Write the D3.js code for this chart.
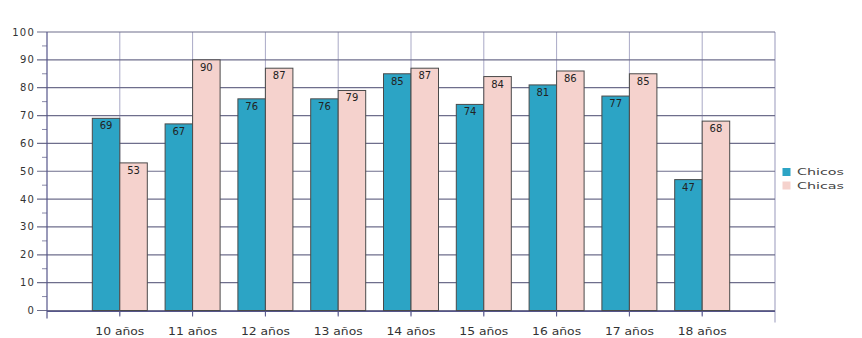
<!DOCTYPE html>
<html>
<head>
<meta charset="utf-8">
<script src="https://cdn.jsdelivr.net/npm/d3@7"></script>
<style>
body { margin: 0; background: #fff; }
text { font-family: "DejaVu Sans", Verdana, sans-serif; }
</style>
</head>
<body>
<svg id="chart" width="862" height="338"></svg>
<script>
const categories = ["10 años","11 años","12 años","13 años","14 años","15 años","16 años","17 años","18 años"];
const chicos = [69, 67, 76, 76, 85, 74, 81, 77, 47];
const chicas = [53, 90, 87, 79, 87, 84, 86, 85, 68];
const seriesNames = ["Chicos", "Chicas"];
const seriesColors = ["#2ca4c5", "#f5d2cd"];
const yTicks = [0,10,20,30,40,50,60,70,80,90,100];

(function () {
const svg = d3.select("#chart");
const pl = 47, pr = 775, pt = 32, pb = 310.5;

const x = d3.scalePoint().domain(categories).range([pl, pr]).padding(1);
const y = d3.scaleLinear().domain([0, 100]).range([pb, pt]);
const barW = 27.5;

// vertical gridlines
svg.append("g").selectAll("line").data(categories).join("line")
  .attr("x1", d => x(d)).attr("x2", d => x(d))
  .attr("y1", pt).attr("y2", pb + 5)
  .attr("stroke", "#a9a9c6").attr("stroke-width", 1);
svg.append("line").attr("x1", pr).attr("x2", pr).attr("y1", pt).attr("y2", pb + 12)
  .attr("stroke", "#a9a9c6").attr("stroke-width", 1.2);

// horizontal gridlines
svg.append("g").selectAll("line").data(yTicks).join("line")
  .attr("x1", pl - 10).attr("x2", pr)
  .attr("y1", d => y(d)).attr("y2", d => y(d))
  .attr("stroke", "#6e6e8c").attr("stroke-width", 1.2);

// minor ticks at 5s
const minor = d3.range(5, 100, 10);
svg.append("g").selectAll("line").data(minor).join("line")
  .attr("x1", pl - 5).attr("x2", pl)
  .attr("y1", d => y(d)).attr("y2", d => y(d))
  .attr("stroke", "#8a8aa8").attr("stroke-width", 1);

// left axis line
svg.append("line").attr("x1", pl).attr("x2", pl).attr("y1", pt).attr("y2", pb + 8)
  .attr("stroke", "#55558a").attr("stroke-width", 1.2);

// y labels
svg.append("g").selectAll("text").data(yTicks).join("text")
  .attr("x", 35).attr("y", d => y(d) + 3.5)
  .attr("text-anchor", "end").attr("font-size", 10).attr("fill", "#333")
  .attr("letter-spacing", 1.2)
  .text(d => d);

// bars
const data = [chicos, chicas];
data.forEach((vals, s) => {
  const g = svg.append("g");
  g.selectAll("rect").data(categories).join("rect")
    .attr("x", d => x(d) + (s === 0 ? -barW : 0))
    .attr("y", (d, i) => y(vals[i]))
    .attr("width", barW)
    .attr("height", (d, i) => y(0) - y(vals[i]))
    .attr("fill", seriesColors[s])
    .attr("stroke", "#4a4a4a").attr("stroke-width", 1);
  g.selectAll("text").data(categories).join("text")
    .attr("x", d => x(d) + (s === 0 ? -barW / 2 : barW / 2))
    .attr("y", (d, i) => y(vals[i]) + 11)
    .attr("text-anchor", "middle").attr("font-size", 10).attr("fill", "#222")
    .text((d, i) => vals[i]);
});

// x axis line
svg.append("line").attr("x1", pl).attr("x2", pr).attr("y1", pb + 1).attr("y2", pb + 1)
  .attr("stroke", "#55558a").attr("stroke-width", 1.2);

// x tick marks
svg.append("g").selectAll("line").data(categories).join("line")
  .attr("x1", d => x(d)).attr("x2", d => x(d))
  .attr("y1", pb + 1).attr("y2", pb + 6)
  .attr("stroke", "#55558a");

// x labels
svg.append("g").selectAll("text").data(categories).join("text")
  .attr("x", d => x(d)).attr("y", 335)
  .attr("text-anchor", "middle").attr("font-size", 10).attr("fill", "#333")
  .attr("textLength", 49).attr("lengthAdjust", "spacingAndGlyphs")
  .text(d => d);

// legend
const lg = svg.append("g");
seriesNames.forEach((n, i) => {
  lg.append("rect").attr("x", 782.5).attr("y", 168 + i * 13.5).attr("width", 8).attr("height", 8)
    .attr("fill", seriesColors[i]);
  lg.append("text").attr("x", 797).attr("y", 175 + i * 13.5)
    .attr("font-size", 8.5).attr("fill", "#444")
    .attr("textLength", 47).attr("lengthAdjust", "spacingAndGlyphs").text(n);
});
})();
</script>
</body>
</html>
